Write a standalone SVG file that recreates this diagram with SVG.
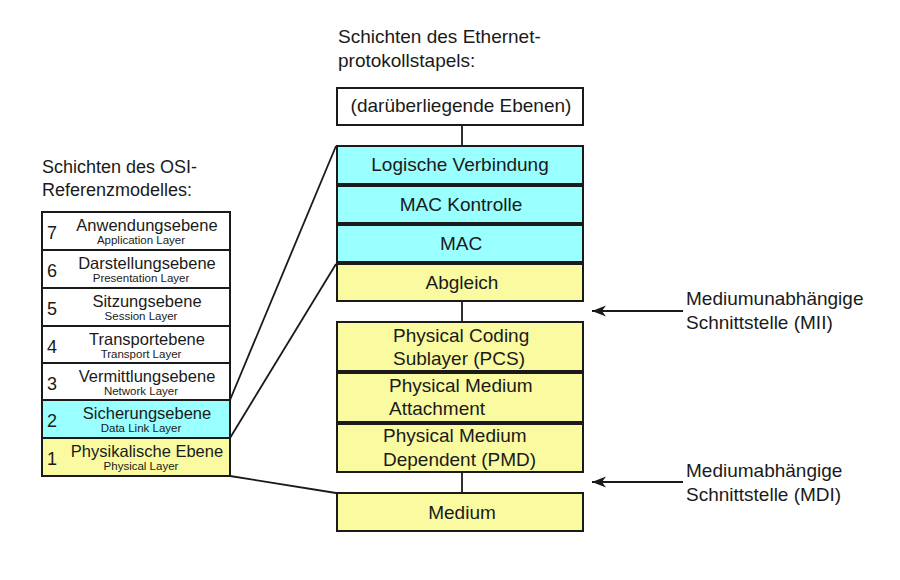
<svg xmlns="http://www.w3.org/2000/svg" width="900" height="580" viewBox="0 0 900 580">
<style>
text{font-family:"Liberation Sans",Arial,sans-serif;fill:#1a1a1a}
.t{font-size:19px}
.ot{font-size:18px}
.m{font-size:16.5px;text-anchor:middle}
.n{font-size:18px}
.s{font-size:11.5px;text-anchor:middle}
.c{font-size:19px;text-anchor:middle}
.box{stroke:#1a1a1a;stroke-width:2}
.w{fill:#fff}.cy{fill:#99ffff}.ye{fill:#fafaa0}
.ln{stroke:#1a1a1a;stroke-width:1.8;fill:none}
</style>
<defs>
<marker id="ah" markerWidth="16" markerHeight="12" viewBox="-15 -6 16 12" refX="0" refY="0" orient="auto" markerUnits="userSpaceOnUse">
<path d="M0,0 L-14,-5.5 L-10,0 L-14,5.5 Z" fill="#1a1a1a"/>
</marker>
</defs>
<rect width="900" height="580" fill="#fff"/>

<g id="titles">
<text class="ot" x="42" y="173">Schichten des OSI-</text>
<text class="ot" x="42" y="196">Referenzmodelles:</text>
<text class="t" x="338" y="43">Schichten des Ethernet-</text>
<text class="t" x="338" y="67">protokollstapels:</text>
</g>

<g id="connectors">
<line class="ln" x1="462" y1="125" x2="462" y2="146"/>
<line class="ln" x1="462" y1="301" x2="462" y2="322"/>
<line class="ln" x1="462" y1="472" x2="462" y2="493"/>
<line class="ln" x1="230" y1="400" x2="336" y2="146"/>
<line class="ln" x1="230" y1="438" x2="336" y2="264"/>
<line class="ln" x1="230" y1="476" x2="336" y2="493"/>
<line class="ln" x1="683" y1="311" x2="592" y2="311" marker-end="url(#ah)"/>
<line class="ln" x1="683" y1="482" x2="592" y2="482" marker-end="url(#ah)"/>
</g>

<g id="osi7"><rect class="box w" x="42" y="212" width="188" height="38"/><text class="n" x="47" y="239">7</text><text class="m" x="147" y="231">Anwendungsebene</text><text class="s" x="141" y="244">Application Layer</text></g>
<g id="osi6"><rect class="box w" x="42" y="250" width="188" height="38"/><text class="n" x="47" y="277">6</text><text class="m" x="147" y="269">Darstellungsebene</text><text class="s" x="141" y="282">Presentation Layer</text></g>
<g id="osi5"><rect class="box w" x="42" y="288" width="188" height="38"/><text class="n" x="47" y="315">5</text><text class="m" x="147" y="307">Sitzungsebene</text><text class="s" x="141" y="320">Session Layer</text></g>
<g id="osi4"><rect class="box w" x="42" y="326" width="188" height="37"/><text class="n" x="47" y="353">4</text><text class="m" x="147" y="345">Transportebene</text><text class="s" x="141" y="357.5">Transport Layer</text></g>
<g id="osi3"><rect class="box w" x="42" y="363" width="188" height="37"/><text class="n" x="47" y="390">3</text><text class="m" x="147" y="382">Vermittlungsebene</text><text class="s" x="141" y="394.5">Network Layer</text></g>
<g id="osi2"><rect class="box cy" x="42" y="400" width="188" height="38"/><text class="n" x="47" y="427">2</text><text class="m" x="147" y="419">Sicherungsebene</text><text class="s" x="141" y="432">Data Link Layer</text></g>
<g id="osi1"><rect class="box ye" x="42" y="438" width="188" height="38"/><text class="n" x="47" y="465">1</text><text class="m" x="147" y="456.5">Physikalische Ebene</text><text class="s" x="141" y="469.5">Physical Layer</text></g>

<g id="upper"><rect class="box w" x="337" y="88" width="246" height="37"/><text class="c" x="461" y="112">(darüberliegende Ebenen)</text></g>
<g id="llc"><rect class="box cy" x="337" y="146" width="246" height="38"/><text class="c" x="460" y="171">Logische Verbindung</text></g>
<g id="macctl"><rect class="box cy" x="337" y="186" width="246" height="37"/><text class="c" x="461" y="211">MAC Kontrolle</text></g>
<g id="mac"><rect class="box cy" x="337" y="225" width="246" height="37"/><text class="c" x="461" y="250">MAC</text></g>
<g id="rs"><rect class="box ye" x="337" y="264" width="246" height="37"/><text class="c" x="462" y="289">Abgleich</text></g>
<g id="pcs"><rect class="box ye" x="337" y="322" width="246" height="49"/><text class="t" x="393" y="342">Physical Coding</text><text class="t" x="393" y="365">Sublayer (PCS)</text></g>
<g id="pma"><rect class="box ye" x="337" y="373" width="246" height="49"/><text class="t" x="389" y="392">Physical Medium</text><text class="t" x="389" y="415">Attachment</text></g>
<g id="pmd"><rect class="box ye" x="337" y="424" width="246" height="48"/><text class="t" x="383" y="442">Physical Medium</text><text class="t" x="383" y="466">Dependent (PMD)</text></g>
<g id="medium"><rect class="box ye" x="337" y="493" width="246" height="38"/><text class="c" x="462" y="519">Medium</text></g>

<g id="mii"><text class="t" x="686" y="305">Mediumunabhängige</text><text class="t" x="686" y="329">Schnittstelle (MII)</text></g>
<g id="mdi"><text class="t" x="686" y="477">Mediumabhängige</text><text class="t" x="686" y="501">Schnittstelle (MDI)</text></g>
</svg>
